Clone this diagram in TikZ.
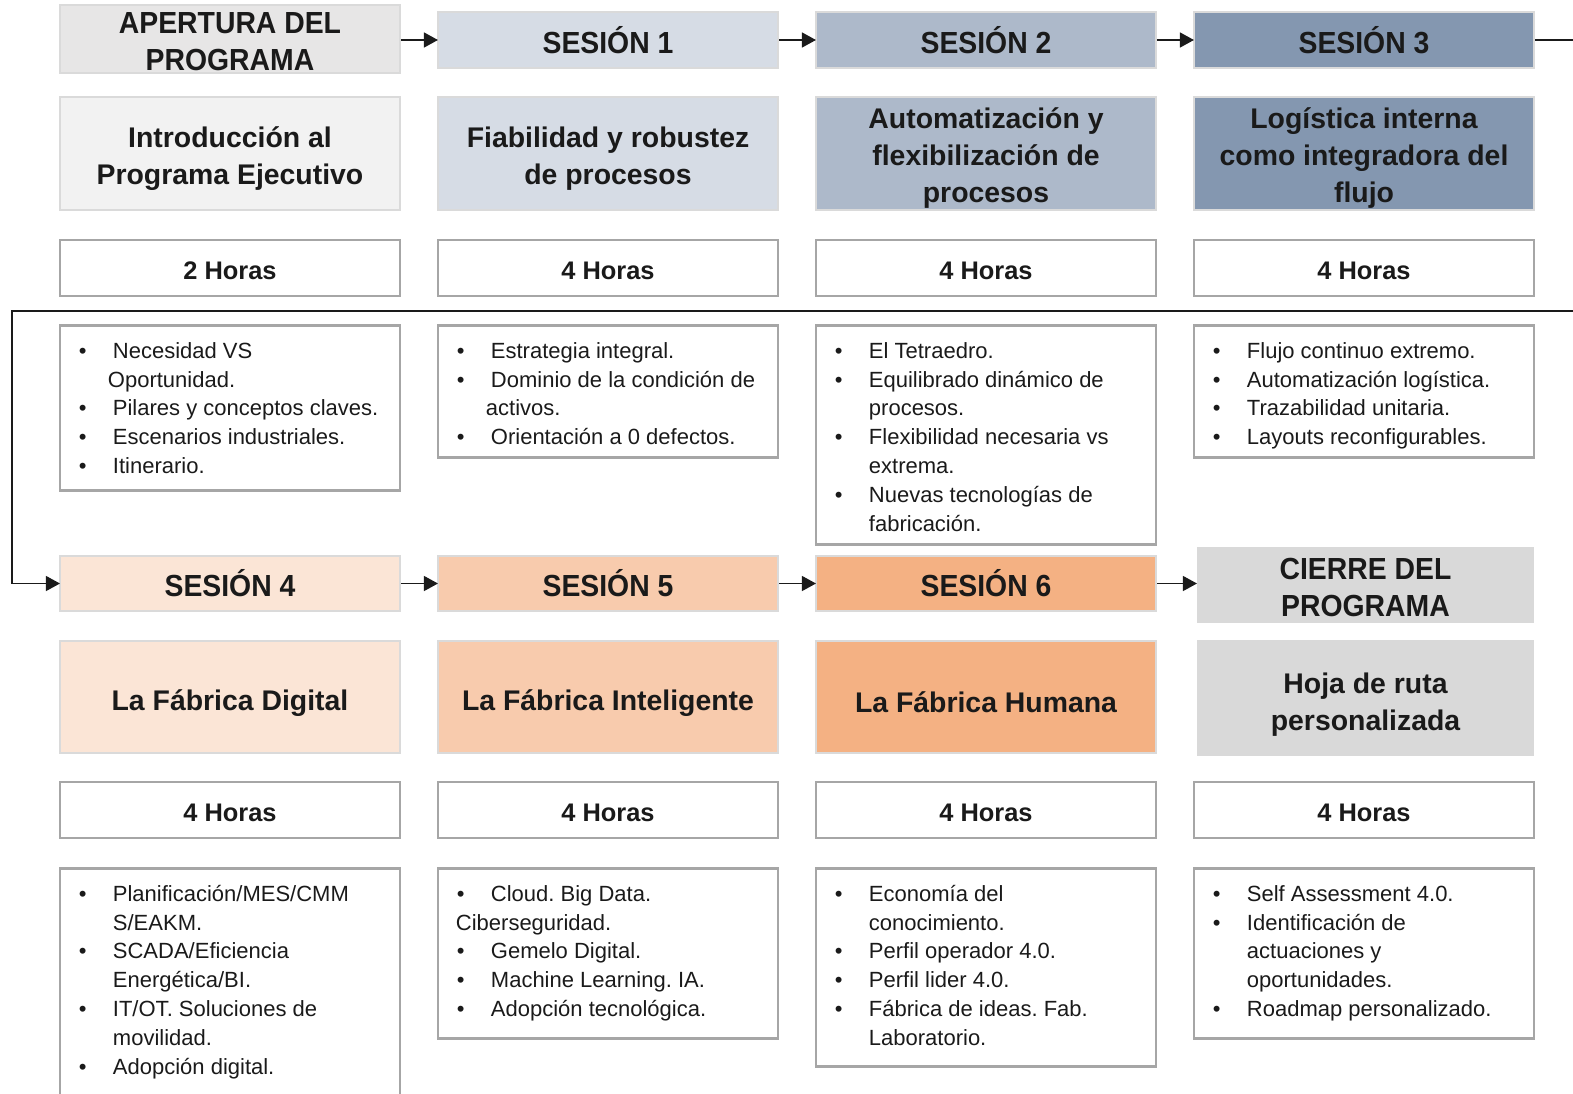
\documentclass[tikz,border=0pt]{standalone}
\usepackage{fontspec}
\setmainfont{Liberation Sans}
\newfontfamily\hfont{Liberation Sans}[FakeStretch=0.93]
\usetikzlibrary{arrows.meta,calc}
\frenchspacing
\definecolor{aper}{HTML}{E7E6E6}
\definecolor{intro}{HTML}{F2F2F2}
\definecolor{sa}{HTML}{D6DCE5}
\definecolor{sb}{HTML}{ADB9CA}
\definecolor{sc}{HTML}{8497B0}
\definecolor{sd}{HTML}{FBE5D6}
\definecolor{se}{HTML}{F8CBAD}
\definecolor{sf}{HTML}{F4B183}
\definecolor{cier}{HTML}{D9D9D9}
\definecolor{bordL}{HTML}{DADADA}
\definecolor{bordD}{HTML}{A6A6A6}
\definecolor{ink}{HTML}{1A1A1A}
\newcommand\bul{\makebox[34pt][l]{•}}
\newcommand\st{\rule{0pt}{17pt}}
\begin{document}
\frenchspacing
\begin{tikzpicture}[x=1pt,y=-1pt,
 hdr/.style={draw=bordL, line width=2.5pt, minimum width=340pt, minimum height=56pt, inner sep=0pt, align=center, text=ink, font=\hfont\bfseries\fontsize{30.5}{37}\selectfont},
 hdr1/.style={hdr, text height=26pt, text depth=0pt},
 tbox/.style={draw=bordL, line width=2.5pt, minimum width=340pt, minimum height=113pt, inner sep=0pt},
 ttext/.style={inner sep=0pt, align=center, text=ink, font=\bfseries\fontsize{28.4}{37}\selectfont},
 hrs/.style={draw=bordD, fill=white, line width=2.5pt, minimum width=340pt, minimum height=56pt, text height=23pt, text depth=0pt, text=ink, font=\bfseries\fontsize{25.4}{28}\selectfont},
 lbox/.style={draw=bordD, line width=2.5pt, minimum width=340pt, anchor=north, inner sep=0pt},
 ltext/.style={anchor=north west, inner sep=0pt, align=left, text=ink, font=\frenchspacing\fontsize{22}{28.8}\selectfont},
 conn/.style={line width=1.3pt, draw=ink},
 arr/.style={conn, -{Triangle[length=14pt,width=15pt]}, shorten >=-1.2pt}
]
\useasboundingbox (0,0) rectangle (1573,1093);
% ---------- Row 1 ----------
\node[hdr, fill=aper, minimum height=68pt] (h1) at (230,39) {};
\node[ttext, font=\hfont\bfseries\fontsize{30.5}{37}\selectfont] (h1t) at (230,42) {APERTURA DEL\\PROGRAMA};
\node[hdr1, fill=sa] (h2) at (608,40) {SESIÓN 1};
\node[hdr1, fill=sb] (h3) at (986,40) {SESIÓN 2};
\node[hdr1, fill=sc] (h4) at (1364,40) {SESIÓN 3};
\node[tbox, fill=intro] (t1) at (230,153.5) {};
\node[tbox, fill=sa] (t2) at (608,153.5) {};
\node[tbox, fill=sb] (t3) at (986,153.5) {};
\node[tbox, fill=sc] (t4) at (1364,153.5) {};
\node[ttext] (t1t) at ($(t1)+(0,5)$) {Introducción al\\Programa Ejecutivo};
\node[ttext] (t2t) at ($(t2)+(0,5)$) {Fiabilidad y robustez\\de procesos};
\node[ttext] (t3t) at ($(t3)+(0,5)$) {Automatización y\\flexibilización de\\procesos};
\node[ttext] (t4t) at ($(t4)+(0,5)$) {Logística interna\\como integradora del\\flujo};
\node[hrs] (r1) at (230,268) {2 Horas};
\node[hrs] (r2) at (608,268) {4 Horas};
\node[hrs] (r3) at (986,268) {4 Horas};
\node[hrs] (r4) at (1364,268) {4 Horas};
\node[lbox, minimum height=165pt] (b1) at (230,324) {};
\node[lbox, minimum height=132pt] (b2) at (608,324) {};
\node[lbox, minimum height=219pt] (b3) at (986,324) {};
\node[lbox, minimum height=132pt] (b4) at (1364,324) {};
\node[ltext] (l1) at ($(b1.north west)+(20,17)$) {\st\bul Necesidad VS\\\hspace*{29pt}Oportunidad.\\\bul Pilares y conceptos claves.\\\bul Escenarios industriales.\\\bul Itinerario.};
\node[ltext] (l2) at ($(b2.north west)+(20,17)$) {\st\bul Estrategia integral.\\\bul Dominio de la condición de\\\hspace*{29pt}activos.\\\bul Orientación a 0 defectos.};
\node[ltext] (l3) at ($(b3.north west)+(20,17)$) {\st\bul El Tetraedro.\\\bul Equilibrado dinámico de\\\hspace*{34pt}procesos.\\\bul Flexibilidad necesaria vs\\\hspace*{34pt}extrema.\\\bul Nuevas tecnologías de\\\hspace*{34pt}fabricación.};
\node[ltext] (l4) at ($(b4.north west)+(20,17)$) {\st\bul Flujo continuo extremo.\\\bul Automatización logística.\\\bul Trazabilidad unitaria.\\\bul Layouts reconfigurables.};
% ---------- Row 2 ----------
\node[hdr1, fill=sd, minimum height=55pt] (h5) at (230,583.5) {SESIÓN 4};
\node[hdr1, fill=se, minimum height=55pt] (h6) at (608,583.5) {SESIÓN 5};
\node[hdr1, fill=sf, minimum height=55pt] (h7) at (986,583.5) {SESIÓN 6};
\node[hdr, fill=cier, draw=none, minimum width=337pt, minimum height=76pt] (h8) at (1365.5,585) {};
\node[ttext, font=\hfont\bfseries\fontsize{30.5}{37}\selectfont] (h8t) at (1365.5,587) {CIERRE DEL\\PROGRAMA};
\node[tbox, fill=sd, minimum height=112pt] (t5) at (230,697) {};
\node[tbox, fill=se, minimum height=112pt] (t6) at (608,697) {};
\node[tbox, fill=sf, minimum height=112pt] (t7) at (986,697) {};
\node[tbox, fill=cier, draw=none, minimum width=337pt, minimum height=116pt] (t8) at (1365.5,698) {};
\node[ttext] (t5t) at ($(t5)+(0,6)$) {La Fábrica Digital};
\node[ttext] (t6t) at ($(t6)+(0,6)$) {La Fábrica Inteligente};
\node[ttext] (t7t) at ($(t7)+(0,5)$) {La Fábrica Humana};
\node[ttext] (t8t) at ($(t8)+(0,7)$) {Hoja de ruta\\personalizada};
\node[hrs] (r5) at (230,810) {4 Horas};
\node[hrs] (r6) at (608,810) {4 Horas};
\node[hrs] (r7) at (986,810) {4 Horas};
\node[hrs] (r8) at (1364,810) {4 Horas};
\node[lbox, minimum height=240pt] (b5) at (230,867) {};
\node[lbox, minimum height=170pt] (b6) at (608,867) {};
\node[lbox, minimum height=198pt] (b7) at (986,867) {};
\node[lbox, minimum height=170pt] (b8) at (1364,867) {};
\node[ltext] (l5) at ($(b5.north west)+(20,17)$) {\st\bul Planificación/MES/CMM\\\hspace*{34pt}S/EAKM.\\\bul SCADA/Eficiencia\\\hspace*{34pt}Energética/BI.\\\bul IT/OT. Soluciones de\\\hspace*{34pt}movilidad.\\\bul Adopción digital.};
\node[ltext] (l6) at ($(b6.north west)+(20,17)$) {\st\bul Cloud. Big Data.\\\hspace*{-1pt}Ciberseguridad.\\\bul Gemelo Digital.\\\bul Machine Learning. IA.\\\bul Adopción tecnológica.};
\node[ltext] (l7) at ($(b7.north west)+(20,17)$) {\st\bul Economía del\\\hspace*{34pt}conocimiento.\\\bul Perfil operador 4.0.\\\bul Perfil lider 4.0.\\\bul Fábrica de ideas. Fab.\\\hspace*{34pt}Laboratorio.};
\node[ltext] (l8) at ($(b8.north west)+(20,17)$) {\st\bul Self Assessment 4.0.\\\bul Identificación de\\\hspace*{34pt}actuaciones y\\\hspace*{34pt}oportunidades.\\\bul Roadmap personalizado.};
% ---------- Connectors ----------
\draw[arr] (h2.west -| h1.east) -- (h2.west);
\draw[arr] (h2.east) -- (h3.west);
\draw[arr] (h3.east) -- (h4.west);
\coordinate (e1) at (1573,40);
\coordinate (e2) at (1573,311);
\coordinate (w1) at (12,311);
\coordinate (w2) at (12,583.5);
\draw[conn] (h4.east) -- (e1);
\draw[arr] (e2) -- (w1) -- (w2) -- (h5.west);
\draw[arr] (h5.east) -- (h6.west);
\draw[arr] (h6.east) -- (h7.west);
\draw[arr] (h7.east) -- (h8.west |- h7.east);
\end{tikzpicture}
\end{document}
